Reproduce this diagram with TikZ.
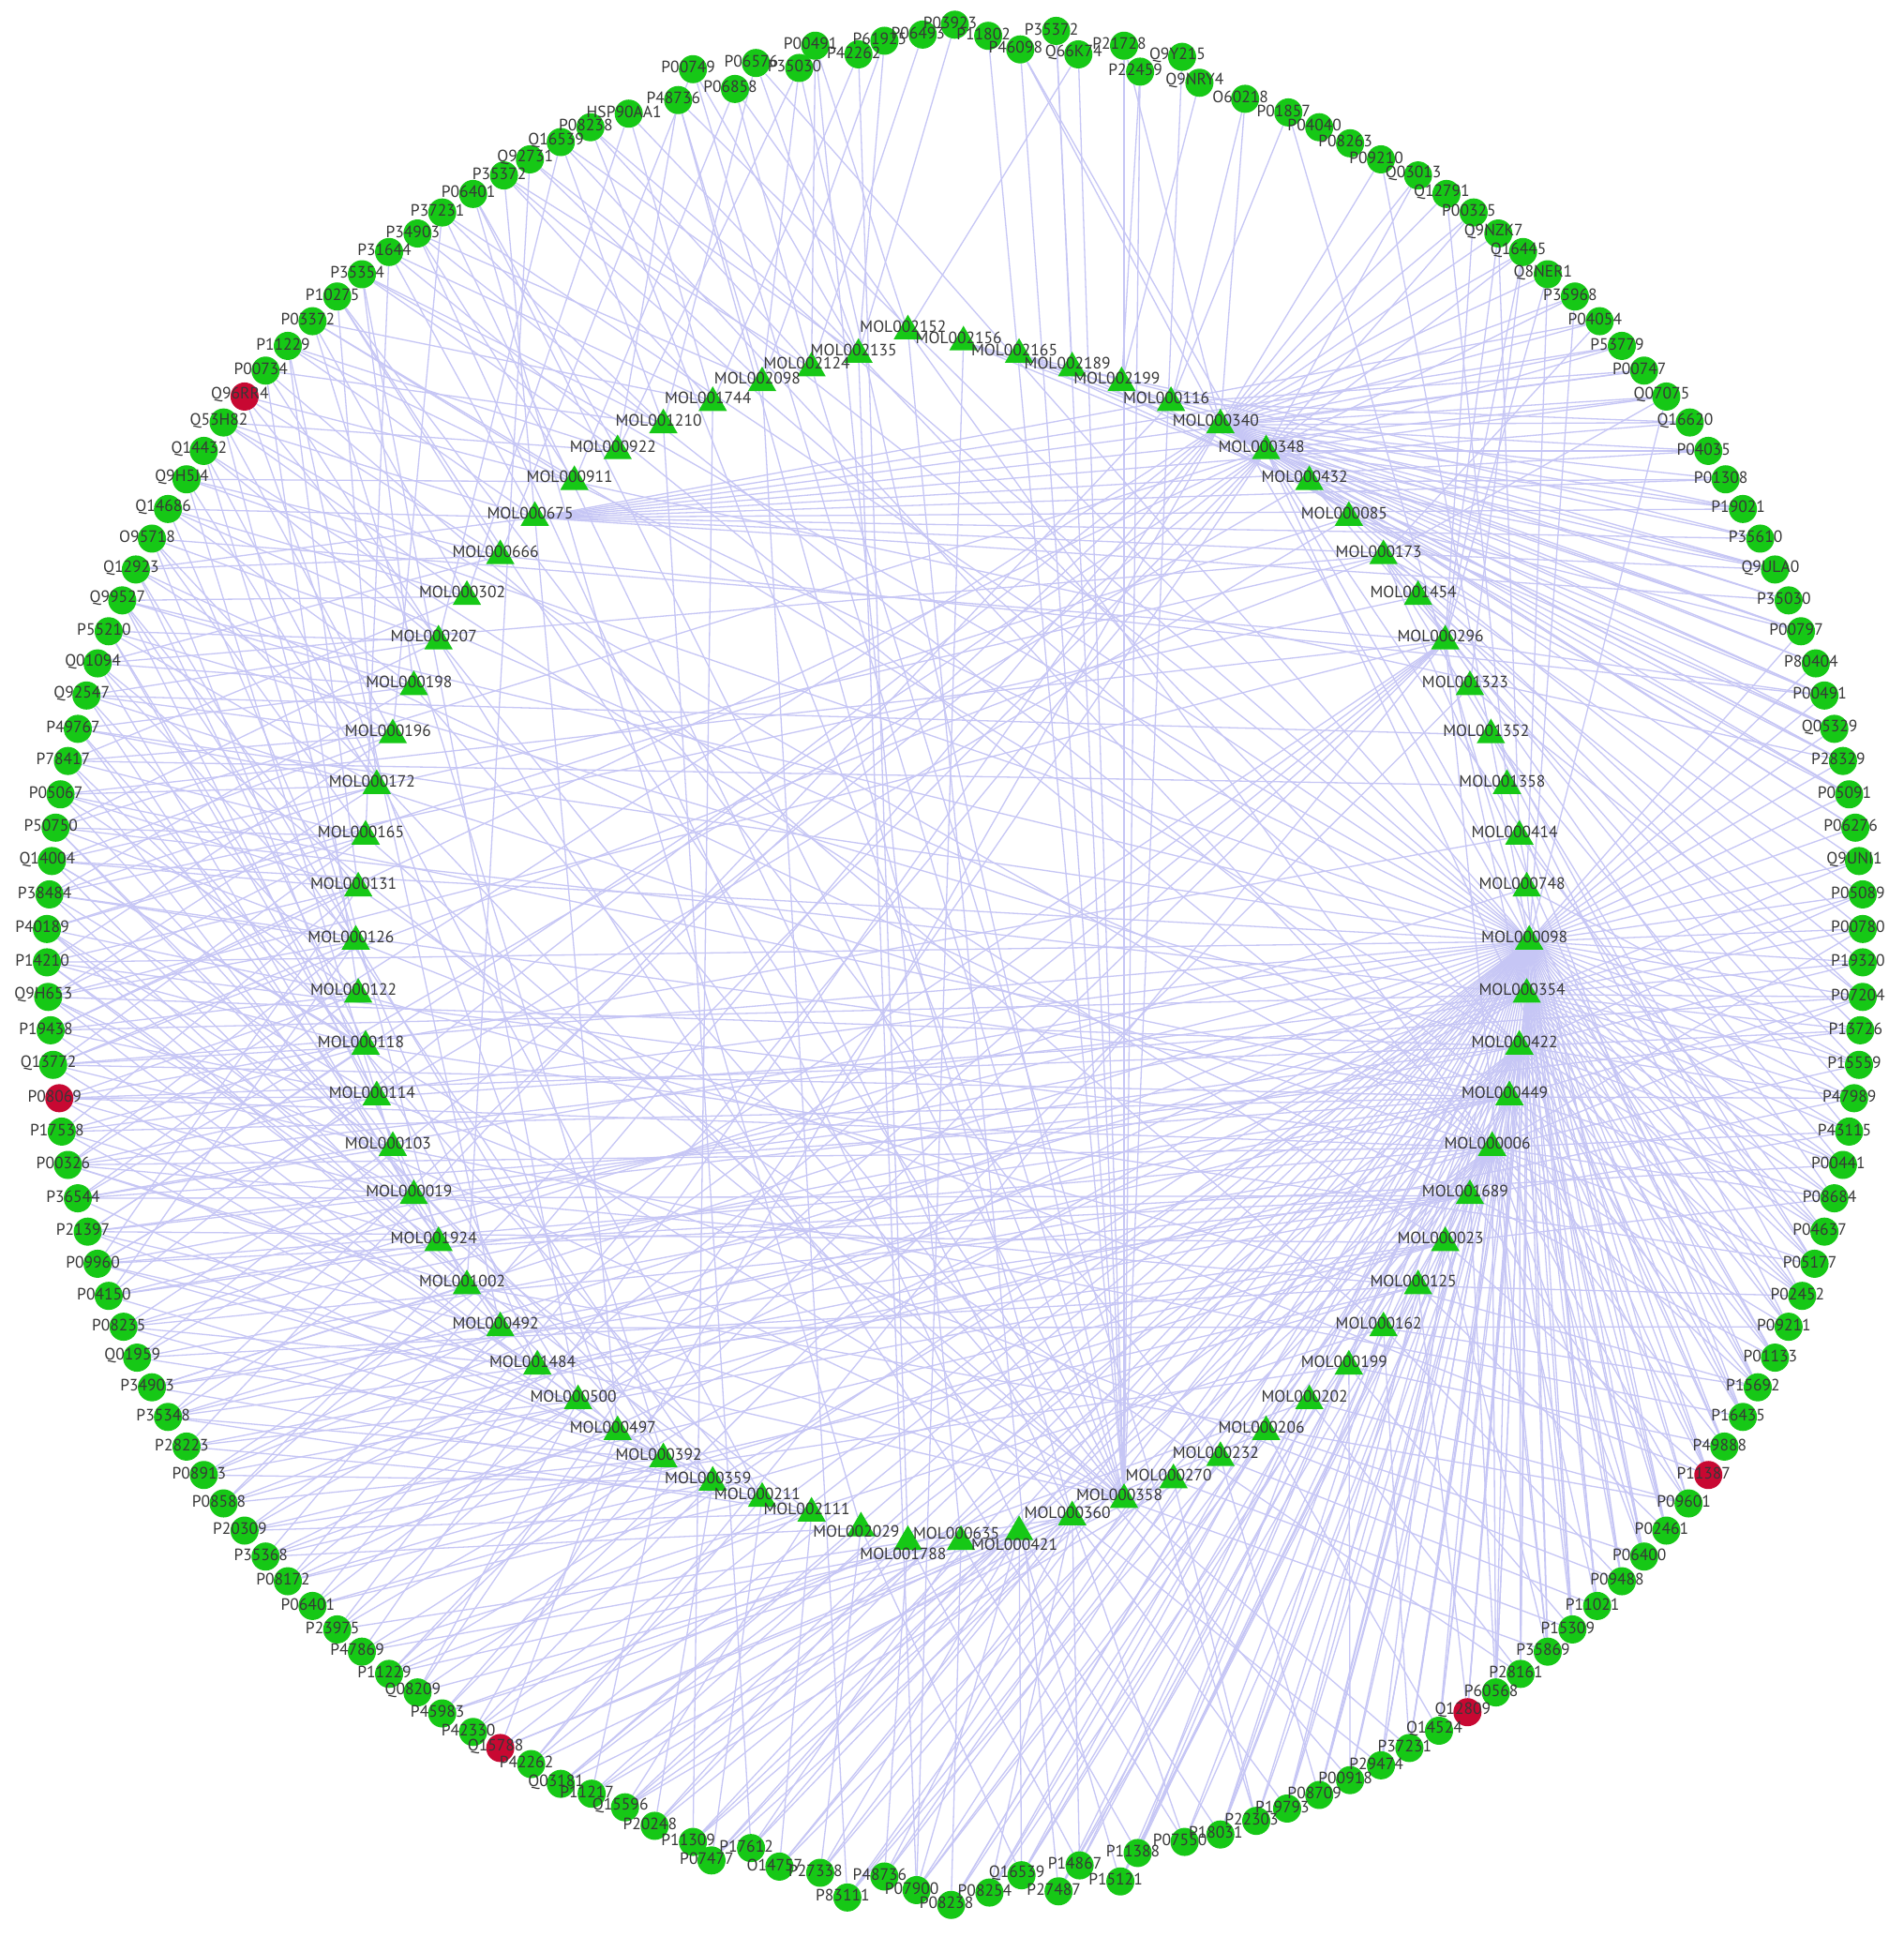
\documentclass[tikz,border=0pt]{standalone}
\usepackage{fontspec}
\setmainfont{PT Sans}
\usetikzlibrary{shapes.geometric}
\definecolor{pg}{RGB}{22,200,22}
\definecolor{pr}{RGB}{200,8,50}
\definecolor{ec}{RGB}{198,198,245}
\definecolor{tc}{RGB}{55,55,55}
\pgfdeclarelayer{back}
\pgfdeclarelayer{bg}
\pgfsetlayers{back,bg,main}
\begin{document}
\begin{tikzpicture}[x=1.318pt,y=-1.318pt,
  prot/.style={circle,draw=none,minimum size=30pt,inner sep=0pt},
  mol/.style={regular polygon,regular polygon sides=3,fill=pg,draw=none,minimum size=35pt,inner sep=0pt},
  lab/.style={inner sep=0pt,text=tc,font=\fontsize{17.5}{20}\selectfont},
  edge/.style={draw=ec,line width=1.3pt}]
\begin{pgfonlayer}{back}
\useasboundingbox[fill=white] (0,0) rectangle (1541,1568);
\end{pgfonlayer}
\def\outerlist{1/P03923/773/20/pg, 2/P11802/800/29/pg, 3/P46098/826/40/pg, 4/P35372/855/25/pg, 5/Q66K74/873/44/pg, 6/P21728/910/37/pg, 7/P22459/923/58/pg, 8/Q9Y215/957/46/pg, 9/Q9NRY4/971/67/pg, 10/O60218/1008/80/pg, 11/P01857/1043/91/pg, 12/P04040/1068/103/pg, 13/P08263/1093/116/pg, 14/P09210/1118/129/pg, 15/Q03013/1148/142/pg, 16/Q12791/1171/157/pg, 17/P00325/1193/172/pg, 18/Q9NZK7/1213/189/pg, 19/Q16445/1233/204/pg, 20/Q8NER1/1253/222/pg, 21/P35968/1275/240/pg, 22/P04054/1295/260/pg, 23/P53779/1313/280/pg, 24/P00747/1331/300/pg, 25/Q07075/1349/321/pg, 26/Q16620/1368/342/pg, 27/P04035/1383/365/pg, 28/P01308/1397/388/pg, 29/P19021/1411/412/pg, 30/P35610/1425/436/pg, 31/Q9ULA0/1437/461/pg, 32/P35030/1448/486/pg, 33/P00797/1458/511/pg, 34/P80404/1470/537/pg, 35/P00491/1477/563/pg, 36/Q05329/1485/590/pg, 37/P28329/1492/616/pg, 38/P05091/1497/643/pg, 39/P06276/1502/670/pg, 40/Q9UNI1/1505/697/pg, 41/P05089/1508/724/pg, 42/P00780/1508/752/pg, 43/P19320/1508/779/pg, 44/P07204/1508/807/pg, 45/P13726/1506/834/pg, 46/P15559/1505/862/pg, 47/P47989/1501/889/pg, 48/P43115/1497/916/pg, 49/P00441/1492/943/pg, 50/P08684/1485/970/pg, 51/P04637/1477/997/pg, 52/P05177/1469/1023/pg, 53/P02452/1459/1049/pg, 54/P09211/1448/1074/pg, 55/P01133/1437/1099/pg, 56/P15692/1423/1123/pg, 57/P16435/1411/1147/pg, 58/P49888/1396/1171/pg, 59/P11387/1383/1194/pr, 60/P09601/1367/1217/pg, 61/P02461/1349/1239/pg, 62/P06400/1331/1260/pg, 63/P09488/1313/1280/pg, 64/P11021/1293/1300/pg, 65/P15309/1273/1319/pg, 66/P35869/1253/1337/pg, 67/P28161/1231/1355/pg, 68/P60568/1211/1370/pg, 69/Q12809/1188/1386/pr, 70/Q14524/1165/1401/pg, 71/P37231/1141/1415/pg, 72/P29474/1118/1429/pg, 73/P00918/1093/1441/pg, 74/P08709/1068/1453/pg, 75/P19793/1042/1464/pg, 76/P22303/1017/1474/pg, 77/P18031/988/1485/pg, 78/P07550/959/1491/pg, 79/P11388/921/1500/pg, 80/P15121/907/1523/pg, 81/P14867/874/1510/pg, 82/P27487/857/1531/pg, 83/Q16539/827/1518/pg, 84/P08254/801/1532/pg, 85/P08238/770/1542/pg, 86/P07900/742/1530/pg, 87/P48736/716/1519/pg, 88/P83111/686/1536/pg, 89/P27338/664/1516/pg, 90/O14757/631/1511/pg, 91/P17612/608/1496/pg, 92/P07477/576/1506/pg, 93/P11309/561/1491/pg, 94/P20248/530/1478/pg, 95/Q15596/506/1463/pg, 96/P11217/479/1452/pg, 97/Q03181/454/1444/pg, 98/P42262/430/1428/pg, 99/Q15788/405/1415/pr, 100/P42330/383/1402/pg, 101/P45983/358/1387/pg, 102/Q08209/338/1370/pg, 103/P11229/315/1355/pg, 104/P47869/293/1337/pg, 105/P23975/273/1319/pg, 106/P06401/253/1300/pg, 107/P08172/233/1280/pg, 108/P35368/215/1260/pg, 109/P20309/198/1239/pg, 110/P08588/181/1217/pg, 111/P08913/165/1194/pg, 112/P28223/151/1171/pg, 113/P35348/136/1147/pg, 114/P34903/123/1123/pg, 115/Q01959/111/1099/pg, 116/P08235/100/1074/pg, 117/P04150/88/1049/pg, 118/P09960/79/1023/pg, 119/P21397/71/997/pg, 120/P36544/63/970/pg, 121/P00326/55/943/pg, 122/P17538/50/916/pg, 123/P08069/48/889/pr, 124/Q13772/43/862/pg, 125/P19438/41/834/pg, 126/Q9H653/39/807/pg, 127/P14210/38/779/pg, 128/P40189/38/752/pg, 129/P38484/40/724/pg, 130/Q14004/42/697/pg, 131/P50750/45/670/pg, 132/P05067/49/643/pg, 133/P78417/55/616/pg, 134/P49767/63/590/pg, 135/Q92547/70/563/pg, 136/Q01094/79/537/pg, 137/P55210/88/511/pg, 138/Q99527/99/486/pg, 139/Q12923/110/461/pg, 140/O95718/123/436/pg, 141/Q14686/136/412/pg, 142/Q9H5J4/151/388/pg, 143/Q14432/165/365/pg, 144/Q53H82/181/342/pg, 145/Q96RR4/198/321/pr, 146/P00734/215/300/pg, 147/P11229/233/280/pg, 148/P03372/253/260/pg, 149/P10275/273/240/pg, 150/P35354/293/222/pg, 151/P31644/315/204/pg, 152/P34903/338/189/pg, 153/P37231/358/172/pg, 154/P06401/383/157/pg, 155/P35372/408/142/pg, 156/Q92731/429/129/pg, 157/Q16539/454/115/pg, 158/P08238/478/103/pg, 159/HSP90AA1/509/92/pg, 160/P48736/549/81/pg, 161/P00749/561/56/pg, 162/P06858/595/72/pg, 163/P06576/612/51/pg, 164/P35030/647/55/pg, 165/P00491/660/37/pg, 166/P42262/695/44/pg, 167/P61925/716/33/pg, 168/P06493/747/28/pg}
\def\innerlist{1/MOL002152/735/268, 2/MOL002156/780/277, 3/MOL002165/825/287, 4/MOL002189/868/298, 5/MOL002199/908/310, 6/MOL000116/948/326, 7/MOL000340/988/344, 8/MOL000348/1025/365, 9/MOL000432/1060/390, 10/MOL000085/1092/419, 11/MOL000173/1120/450, 12/MOL001454/1148/483, 13/MOL000296/1170/519, 14/MOL001323/1190/556, 15/MOL001352/1207/595, 16/MOL001358/1220/636, 17/MOL000414/1230/677, 18/MOL000748/1236/719, 19/MOL000098/1238/762, 20/MOL000354/1236/805, 21/MOL000422/1230/847, 22/MOL000449/1222/888, 23/MOL000006/1208/929, 24/MOL001689/1190/968, 25/MOL000023/1170/1006, 26/MOL000125/1148/1041, 27/MOL000162/1120/1075, 28/MOL000199/1092/1106, 29/MOL000202/1060/1134, 30/MOL000206/1025/1159, 31/MOL000232/988/1180, 32/MOL000270/950/1198, 33/MOL000358/910/1214, 34/MOL000360/868/1228, 35/MOL000421/825/1240, 36/MOL000635/778/1248, 37/MOL001788/735/1248, 38/MOL002029/697/1237, 39/MOL002111/657/1225, 40/MOL000211/617/1213, 41/MOL000359/577/1200, 42/MOL000392/537/1181, 43/MOL000497/500/1159, 44/MOL000500/468/1134, 45/MOL001484/435/1106, 46/MOL000492/405/1075, 47/MOL001002/378/1041, 48/MOL001924/355/1006, 49/MOL000019/335/968, 50/MOL000103/318/929, 51/MOL000114/305/888, 52/MOL000118/296/847, 53/MOL000122/290/805, 54/MOL000126/288/762, 55/MOL000131/290/719, 56/MOL000165/296/677, 57/MOL000172/305/636, 58/MOL000196/318/595, 59/MOL000198/335/556, 60/MOL000207/355/519, 61/MOL000302/378/483, 62/MOL000666/405/450, 63/MOL000675/433/419, 64/MOL000911/465/390, 65/MOL000922/500/365, 66/MOL001210/537/344, 67/MOL001744/577/326, 68/MOL002098/617/310, 69/MOL002124/657/298, 70/MOL002135/695/287}
% protein nodes
\foreach \i/\n/\x/\y/\c in \outerlist { \node[prot,fill=\c] (o\i) at (\x,\y) {}; }
\foreach \i/\n/\x/\y/\c in \outerlist { \node[lab] (lo\i) at ([xshift=-5pt,yshift=2pt]o\i.center) {\n}; }
% compound nodes
\foreach \i/\n/\x/\y in \innerlist { \node[mol] (m\i) at (\x,\y) {}; }
\foreach \i/\n/\x/\y in \innerlist {
  \ifnum\i=37 \def\dy{-13pt}\else\ifnum\i=35 \def\dy{-14pt}\else\ifnum\i=36 \def\dy{9pt}\else\ifnum\i=38 \def\dy{-3pt}\else\def\dy{5pt}\fi\fi\fi\fi
  \node[lab] (lm\i) at ([xshift=-5pt,yshift=\dy]m\i.center) {\n}; }
% edges
\begin{pgfonlayer}{bg}
\foreach \m/\ts in {
1/{5,165,82},
2/{31,33,35,86},
3/{30,32,34,36},
4/{29,37,4},
5/{38,9,7},
6/{10,11,24,26,112},
7/{14,...,40,100,104,108,113,117,121,3,6,10},
8/{15,17,...,39,52,55,58,102,106,110,115,119,125,131},
9/{28,31,42,47,120},
10/{33,36,44,118,128},
11/{22,25,38,41,45,48,52,56,124,130,136},
12/{43,46,50,129},
13/{17,18,19,20,35,62,66,98,103,105,107,109,111,126,132,140},
14/{19,44,53,101},
15/{49,54,135},
16/{16,57,133},
17/{18,51,61,123},
18/{20,46,64,116},
19/{33,...,100,102,105,108,111,114,117,120,122,124,127,130,134,138,142,147,150,153,156,158,160,163,3,11,14,21,25},
20/{40,...,70,103,107,110,113,118,121,125,131},
21/{41,43,...,97,116,119,123,126,137,148,155,159},
22/{44,47,...,86,113,115,117,120,122,124,129,132,141,152},
23/{42,44,...,96,110,114,118,121,123,127,135,144,151,157,162},
24/{48,55,60,68,74,112,114,116,118,120,139},
25/{50,59,66,72,107,109,111,113,119,143},
26/{53,61,69,75,80,106,108,115,121},
27/{56,63,71,77,104,146},
28/{58,65,73,82,109},
29/{60,67,79,101},
30/{62,70,84,99},
31/{64,74,85,95,149},
32/{65,76,88,97},
33/{2,3,4,5,6,7,8,66,...,115,118,121,126,130,136,145,149,154,158,161,164},
34/{72,75,...,105,140,153,160},
35/{77,80,...,104,152},
36/{79,85,91,103,165},
37/{81,87,94,100,166},
38/{83,89,97,108,154},
39/{90,95,103,109,113,119,128},
40/{92,98,106,112,116,127,134,143},
41/{94,100,107,111,114,122,131,138},
42/{96,101,104,110,113,117,120,125,132,139,148},
43/{99,103,108,115,123,130,145,155},
44/{102,106,112,118,126,137,150},
45/{105,109,116,124,133,141,47},
46/{107,111,119,128,135,147,54},
47/{110,114,121,129,138,156,60},
48/{113,117,122,127,136,144,49},
49/{115,119,123,126,131,140,45},
50/{116,120,124,128,134,142,57},
51/{118,121,123,125,129,137,63,44},
52/{119,122,124,127,130,133,139,52},
53/{120,123,125,128,132,135,146,56},
54/{117,121,124,126,129,131,136,143,59},
55/{118,122,125,127,130,132,138,147,67},
56/{124,126,128,131,133,140,151,71},
57/{126,129,132,134,137,142,149},
58/{127,130,133,135,139,144,153},
59/{129,134,136,138,141,150,73},
60/{131,135,137,140,143,146,157,78},
61/{133,138,141,144,148,159},
62/{136,139,142,145,149,161,35},
63/{22,...,32,139,141,144,147,151},
64/{142,145,148,152,162,37},
65/{144,147,150,154,160,164},
66/{146,150,153,157,163,91},
67/{148,151,155,159,166,93},
68/{152,156,160,164,167,88},
69/{155,158,162,165,168,76},
70/{157,161,163,167,1,86}}
{ \foreach \t in \ts { \draw[edge] (m\m) -- (o\t); } }
\end{pgfonlayer}
\end{tikzpicture}
\end{document}
